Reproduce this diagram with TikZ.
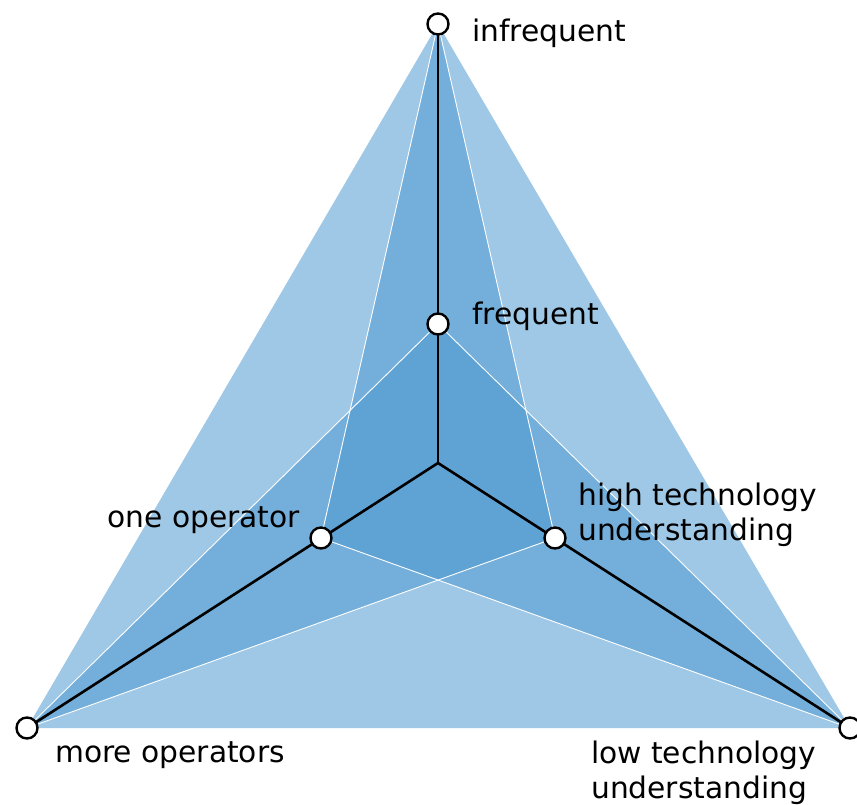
\documentclass[tikz,border=0pt]{standalone}
\usepackage{fontspec}
\setmainfont{DejaVu Sans}
\definecolor{areablue}{RGB}{78,153,208}
\begin{document}
\begin{tikzpicture}[x=1pt, y=-1pt,
    area/.style={fill=areablue, fill opacity=0.54},
    rim/.style={draw=white, line width=0.9pt},
    axis/.style={draw=black, line width=2.6pt},
    knob/.style={circle, draw=black, fill=white, line width=2.4pt, minimum size=21pt, inner sep=0pt},
    tag/.style={font=\fontsize{29.7}{34.5}\selectfont, inner sep=0pt, align=left}]
\useasboundingbox (0,0) rectangle (857,805);
\coordinate (hub) at (438,463);
\coordinate (infreq) at (438,24);
\coordinate (freq) at (438,324);
\coordinate (more) at (27,728);
\coordinate (one) at (321,538);
\coordinate (low) at (850,728);
\coordinate (high) at (555,538);
    \fill[area]
(infreq) --
(one) --
(low) --
cycle;
    \fill[area]
(infreq) --
(more) --
(high) --
cycle;
    \fill[area]
(freq) --
(more) --
(low) --
cycle;
    \draw[rim]
(infreq) --
(one) --
(low);
    \draw[rim]
(infreq) --
(high) --
(more);
    \draw[rim]
(more) --
(freq) --
(low);
    \draw[axis] (hub) -- (infreq);
    \draw[axis] (hub) -- (more);
    \draw[axis] (hub) -- (low);
\node[knob] (ninfreq) at (infreq) {};
\node[knob] (nfreq) at (freq) {};
\node[knob] (nmore) at (more) {};
\node[knob] (none) at (one) {};
\node[knob] (nlow) at (low) {};
\node[knob] (nhigh) at (high) {};
\node[tag, anchor=base west] (linfreq) at (472,42) {infrequent};
\node[tag, anchor=base west] (lfreq) at (472,324) {frequent};
\node[tag, anchor=base east] (lone) at (300,527) {one operator};
\node[tag, anchor=base west] (lhigh) at (578,540) {high technology\\understanding};
\node[tag, anchor=base west] (lmore) at (55,762) {more operators};
\node[tag, anchor=base west] (llow) at (591,798) {low technology\\understanding};
\end{tikzpicture}
\end{document}
